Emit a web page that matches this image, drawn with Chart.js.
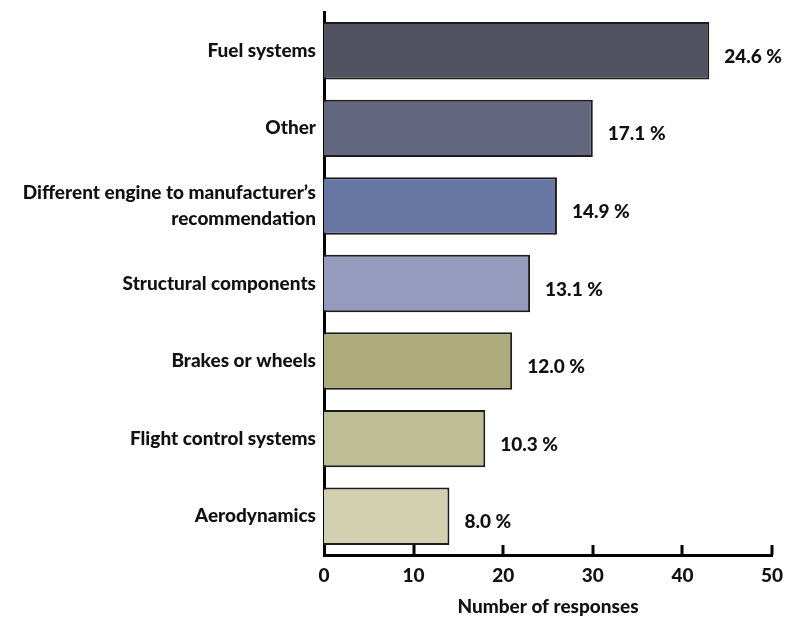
<!DOCTYPE html>
<html>
<head>
<meta charset="utf-8">
<script src="https://cdn.jsdelivr.net/npm/chart.js@4.4.1/dist/chart.umd.min.js"></script>
<style>
  html, body { margin: 0; padding: 0; background: #fff; }
  #wrap { width: 787px; height: 618px; }
</style>
</head>
<body>
<div id="wrap"><canvas id="chart-area" width="787" height="618"></canvas></div>
<script>
(function() {

  "use strict";

  var categories = [
    "Fuel systems",
    "Other",
    ["Different engine to manufacturer\u2019s", "recommendation"],
    "Structural components",
    "Brakes or wheels",
    "Flight control systems",
    "Aerodynamics"
  ];
  var responses = [43, 30, 26, 23, 21, 18, 14];
  var barColors = ["#50525f", "#62667f", "#6876a3", "#959bbd", "#aeab7a", "#bfbd95", "#d3d0b2"];
  var xTicks = [0, 10, 20, 30, 40, 50];

  var total = responses.reduce(function(a, b) { return a + b; }, 0);
  var fontFamily = "Lato, 'DejaVu Sans', sans-serif";

  // percent share written to the right of each bar
  var valueLabels = {
    id: 'valueLabels',
    afterDatasetsDraw: function(chart) {
      var ctx = chart.ctx;
      var meta = chart.getDatasetMeta(0);
      ctx.save();
      ctx.font = "900 19px " + fontFamily;
      ctx.fillStyle = "#111";
      ctx.textAlign = "left";
      ctx.textBaseline = "middle";
      meta.data.forEach(function(bar, i) {
        var pct = (responses[i] / total * 100).toFixed(1) + " %";
        ctx.fillText(pct, bar.x + 15, bar.y + 6);
      });
      ctx.restore();
    }
  };

  // short tick marks pointing up from the x axis
  var innerTicks = {
    id: 'innerTicks',
    afterDraw: function(chart) {
      var ctx = chart.ctx;
      var x = chart.scales.x;
      var bottom = chart.chartArea.bottom;
      ctx.save();
      ctx.strokeStyle = "#000";
      ctx.lineWidth = 3;
      xTicks.slice(1).forEach(function(v) {
        var px = Math.round(x.getPixelForValue(v));
        ctx.beginPath();
        ctx.moveTo(px, bottom);
        ctx.lineTo(px, bottom - 10);
        ctx.stroke();
      });
      ctx.restore();
    }
  };

  var responsesChart = new Chart(document.getElementById("chart-area"), {
    type: 'bar',
    data: {
      labels: categories,
      datasets: [{
        label: "Number of responses",
        data: responses,
        backgroundColor: barColors,
        borderColor: "#1c1c1c",
        borderWidth: 2,
        borderSkipped: 'start',
        categoryPercentage: 0.74,
        barPercentage: 1.0
      }]
    },
    options: {
      indexAxis: 'y',
      responsive: false,
      animation: false,
      devicePixelRatio: 1,
      layout: { padding: { top: 12, right: 15, bottom: 0, left: 0 } },
      plugins: {
        legend: { display: false },
        tooltip: { enabled: false }
      },
      scales: {
        x: {
          min: 0,
          max: 50,
          afterBuildTicks: function(scale) {
            scale.ticks = xTicks.map(function(v) { return { value: v }; });
          },
          afterFit: function(scale) {
            scale.height = 63;
            scale.paddingLeft = 0;
            scale.paddingRight = 0;
          },
          grid: { display: false, drawTicks: false },
          border: { display: true, color: "#000", width: 3 },
          ticks: {
            padding: 9,
            color: "#111",
            font: { family: fontFamily, size: 19, weight: '900' }
          },
          title: {
            display: true,
            text: "Number of responses",
            color: "#111",
            padding: { top: 10, bottom: 0 },
            font: { family: fontFamily, size: 19, weight: '900' }
          }
        },
        y: {
          afterFit: function(scale) {
            scale.width = 324;
            scale.paddingTop = 0;
            scale.paddingBottom = 0;
          },
          grid: { display: false, drawTicks: false },
          border: { display: true, color: "#000", width: 3 },
          ticks: {
            padding: 8,
            color: "#111",
            font: { family: fontFamily, size: 19, weight: '900', lineHeight: 1.4 }
          }
        }
      }
    },
    plugins: [valueLabels, innerTicks]
  });

})();
</script>
</body>
</html>
